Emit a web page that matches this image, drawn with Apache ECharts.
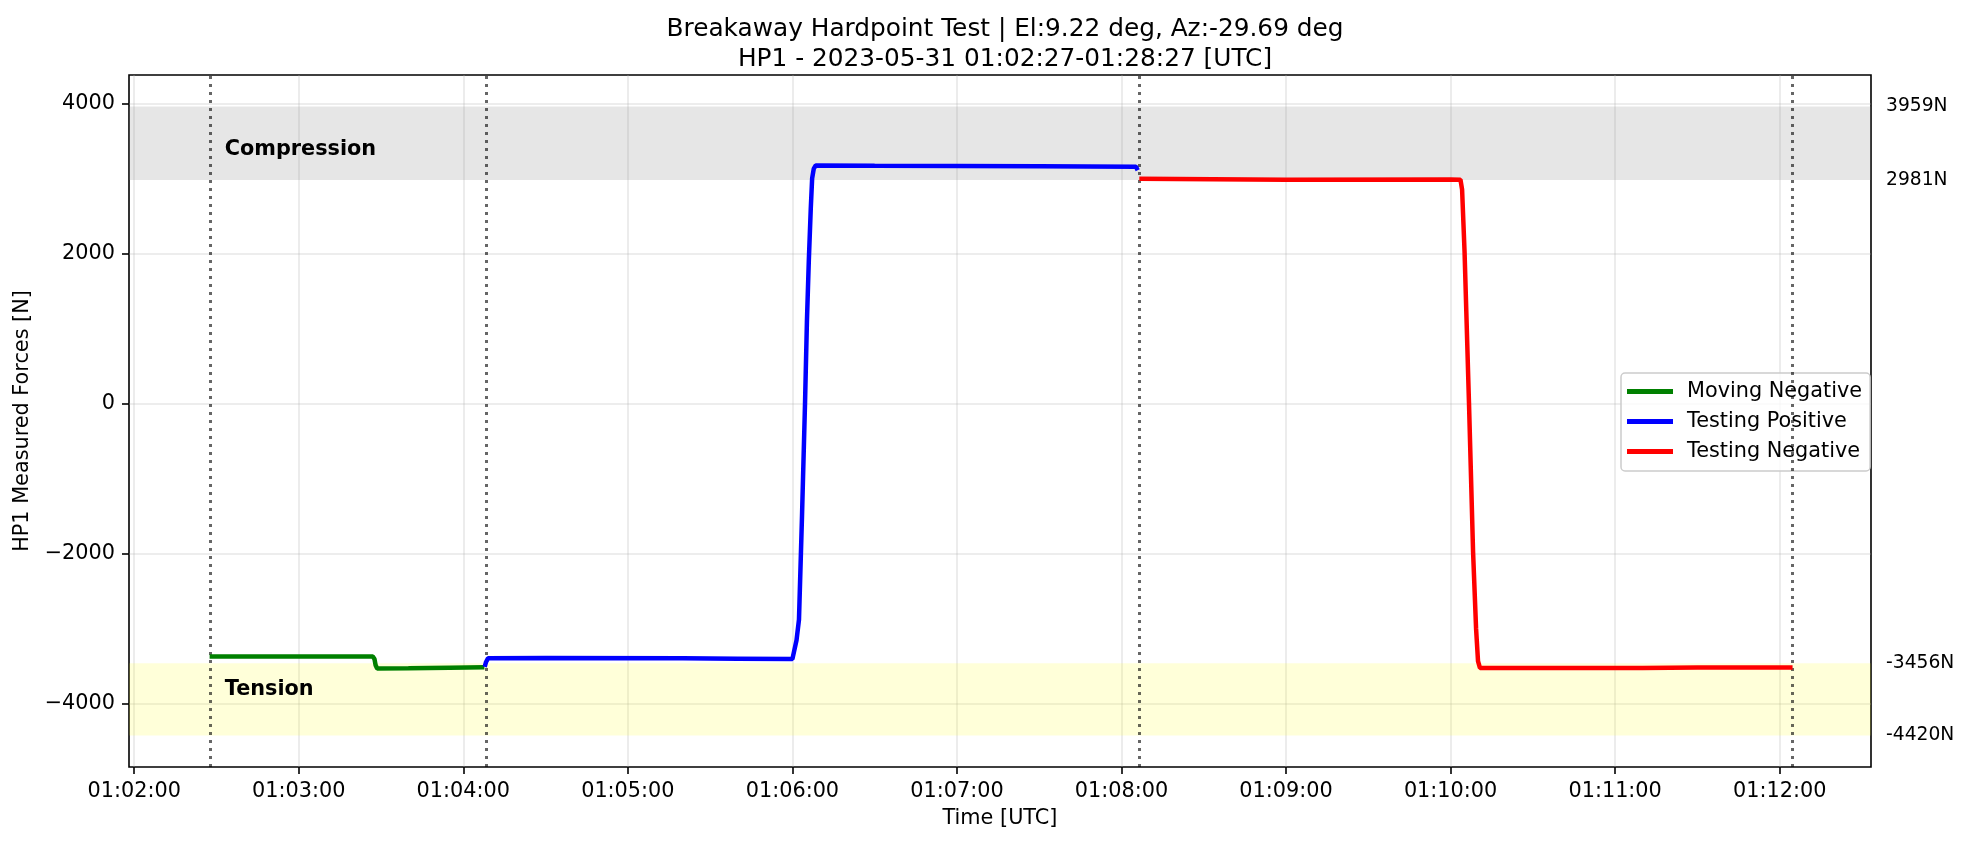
<!DOCTYPE html>
<html><head><meta charset="utf-8">
<script src="https://cdn.jsdelivr.net/npm/echarts@6/dist/echarts.min.js"></script>
<style>html,body{margin:0;padding:0;background:#fff}#c{width:1969px;height:846px}</style>
</head><body><div id="c"></div>
<script>
// ---------- data ----------
const baseTime = '01:02:00';
const xTickLabels = ['01:02:00','01:03:00','01:04:00','01:05:00','01:06:00','01:07:00','01:08:00','01:09:00','01:10:00','01:11:00','01:12:00'];
const yTickValues = [-4000, -2000, 0, 2000, 4000];
const bandLimitValues = [3959, 2981, -3456, -4420];
const compressionBand = [2981, 3959];
const tensionBand = [-4420, -3456];
const vlineTimes = ['01:02:27.7', '01:04:08.3', '01:08:06.5', '01:12:04.7'];

const movingNegTimes  = ['01:02:27.5','01:03:00','01:03:27.0','01:03:27.6','01:03:28.0','01:03:28.6','01:03:40','01:03:55','01:04:07.7'];
const movingNegValues = [-3368, -3366, -3368, -3400, -3480, -3528, -3525, -3518, -3512];

const testPosTimes  = ['01:04:07.8','01:04:08.3','01:04:09.0','01:04:30','01:05:20','01:05:40','01:06:00.0','01:06:00.6','01:06:01.5','01:06:02.4','01:06:03.5','01:06:04.6','01:06:05.3','01:06:06.0','01:06:06.7','01:06:07.2','01:06:07.8','01:06:08.5','01:06:30','01:07:00','01:07:30','01:08:05.3','01:08:05.9'];
const testPosValues = [-3505, -3440, -3392, -3387, -3390, -3396, -3402, -3408, -3150, -2876, -1500, 0, 1100, 1920, 2600, 3000, 3130, 3172, 3168, 3166, 3162, 3155, 3110];

const testNegTimes  = ['01:08:06.5','01:08:07.0','01:09:00','01:10:00','01:10:03.6','01:10:04.2','01:10:05.1','01:10:06.7','01:10:08.2','01:10:09.3','01:10:10.0','01:10:10.7','01:10:40','01:11:10','01:11:30','01:12:04.7'];
const testNegValues = [2995, 2985, 2983, 2985, 2983, 2850, 2017, 24, -1973, -3000, -3430, -3520, -3522, -3520, -3514, -3514];

const seriesNames = ['Moving Negative', 'Testing Positive', 'Testing Negative'];
// ---------------------------

function hms(s){ const p = s.split(':'); return (+p[0])*3600 + (+p[1])*60 + parseFloat(p[2]); }
const base = hms(baseTime);
function rel(s){ return hms(s) - base; }
function pairs(ts, vs){ return ts.map((t,i)=>[rel(t), vs[i]]); }
const xTickSec = xTickLabels.map(rel);
const labelMap = {}; xTickLabels.forEach((l,i)=>{ labelMap[Math.round(xTickSec[i])] = l; });

const X_MIN = -1.9, X_MAX = 633.3, Y_MIN = -4839, Y_MAX = 4378;
const FONT = 'DejaVu Sans';
const chart = echarts.init(document.getElementById('c'), null, {renderer:'canvas'});
const lineW = 4.5;
const option = {
  animation: false,
  textStyle: {fontFamily: FONT, color:'#000'},
  title: {
    text: 'Breakaway Hardpoint Test | El:9.22 deg, Az:-29.69 deg\nHP1 - 2023-05-31 01:02:27-01:28:27 [UTC]',
    left: 1000, top: 10, textAlign: 'center',
    textStyle: {fontFamily: FONT, fontSize: 24.8, fontWeight: 'normal', color: '#000', lineHeight: 30}
  },
  grid: {left: 129, right: 98, top: 75, bottom: 79, show: true, borderColor: '#000', borderWidth: 1.6, backgroundColor: 'transparent'},
  legend: {
    orient: 'vertical', left: 1621, top: 373,
    data: seriesNames,
    icon: 'rect', itemWidth: 46, itemHeight: 5, itemGap: 9,
    padding: [8, 8, 9, 6],
    backgroundColor: 'rgba(255,255,255,0.8)', borderColor: '#cccccc', borderWidth: 1.5, borderRadius: 4,
    textStyle: {fontFamily: FONT, fontSize: 20.8, color: '#000', padding: [0,0,0,9]}
  },
  xAxis: {
    type: 'value', min: X_MIN, max: X_MAX,
    name: 'Time [UTC]', nameLocation: 'middle', nameGap: 41,
    nameTextStyle: {fontFamily: FONT, fontSize: 20.8, color: '#000'},
    axisLine: {show: false, onZero: false},
    axisTick: {show: true, length: 7, lineStyle: {color: '#000', width: 1.6}, customValues: xTickSec},
    axisLabel: {customValues: xTickSec, margin: 14, fontFamily: FONT, fontSize: 20.8, color: '#000',
      formatter: v => labelMap[Math.round(v)] || ''},
    splitLine: {show: true, lineStyle: {color: 'rgba(176,176,176,0.3)', width: 1.6}}
  },
  yAxis: [{
    type: 'value', min: Y_MIN, max: Y_MAX,
    name: 'HP1 Measured Forces [N]', nameLocation: 'middle', nameGap: 96, nameRotate: 90,
    nameTextStyle: {fontFamily: FONT, fontSize: 20.8, color: '#000'},
    axisLine: {show: false, onZero: false},
    axisTick: {show: true, length: 7, lineStyle: {color: '#000', width: 1.6}, customValues: yTickValues},
    axisLabel: {customValues: yTickValues, margin: 14, fontFamily: FONT, fontSize: 20.8, color: '#000',
      formatter: v => String(v).replace('-', '\u2212')},
    splitLine: {show: true, lineStyle: {color: 'rgba(176,176,176,0.3)', width: 1.6}}
  }, {
    type: 'value', min: Y_MIN, max: Y_MAX, position: 'right',
    axisLine: {show: false, onZero: false}, axisTick: {show: false, customValues: bandLimitValues}, splitLine: {show: false},
    axisLabel: {customValues: bandLimitValues, margin: 15, fontFamily: FONT, fontSize: 18.7, color: '#000',
      formatter: v => v + 'N'}
  }],
  series: [
    {
      name: seriesNames[0], type: 'line', showSymbol: false, z: 5,
      data: pairs(movingNegTimes, movingNegValues),
      lineStyle: {color: '#008000', width: lineW}, itemStyle: {color: '#008000'},
      markArea: {
        silent: true,
        data: [
          [{xAxis: X_MIN - 10, yAxis: compressionBand[0], itemStyle: {color: 'rgba(128,128,128,0.2)'}}, {xAxis: X_MAX + 10, yAxis: compressionBand[1]}],
          [{xAxis: X_MIN - 10, yAxis: tensionBand[0], itemStyle: {color: 'rgba(255,255,0,0.15)'}}, {xAxis: X_MAX + 10, yAxis: tensionBand[1]}]
        ]
      },
      markLine: {
        silent: true, symbol: ['none','none'], label: {show: false},
        lineStyle: {color: 'rgba(0,0,0,0.6)', width: 3, type: [3, 5], cap: 'butt'},
        data: vlineTimes.map(t => ({xAxis: rel(t)}))
      },
      markPoint: {
        silent: true, symbol: 'circle', symbolSize: 0,
        label: {show: true, position: 'inside', align: 'left', verticalAlign: 'middle',
          fontFamily: FONT, fontSize: 20.8, fontWeight: 'bold', color: '#000', formatter: p => p.name},
        data: [
          {name: 'Compression', coord: [33, 3387]},
          {name: 'Tension', coord: [33, -3813]}
        ]
      }
    },
    {
      name: seriesNames[1], type: 'line', showSymbol: false, z: 5,
      data: pairs(testPosTimes, testPosValues),
      lineStyle: {color: '#0000ff', width: lineW}, itemStyle: {color: '#0000ff'}
    },
    {
      name: seriesNames[2], type: 'line', showSymbol: false, z: 5,
      data: pairs(testNegTimes, testNegValues),
      lineStyle: {color: '#ff0000', width: lineW}, itemStyle: {color: '#ff0000'}
    }
  ]
};
chart.setOption(option);
</script></body></html>
